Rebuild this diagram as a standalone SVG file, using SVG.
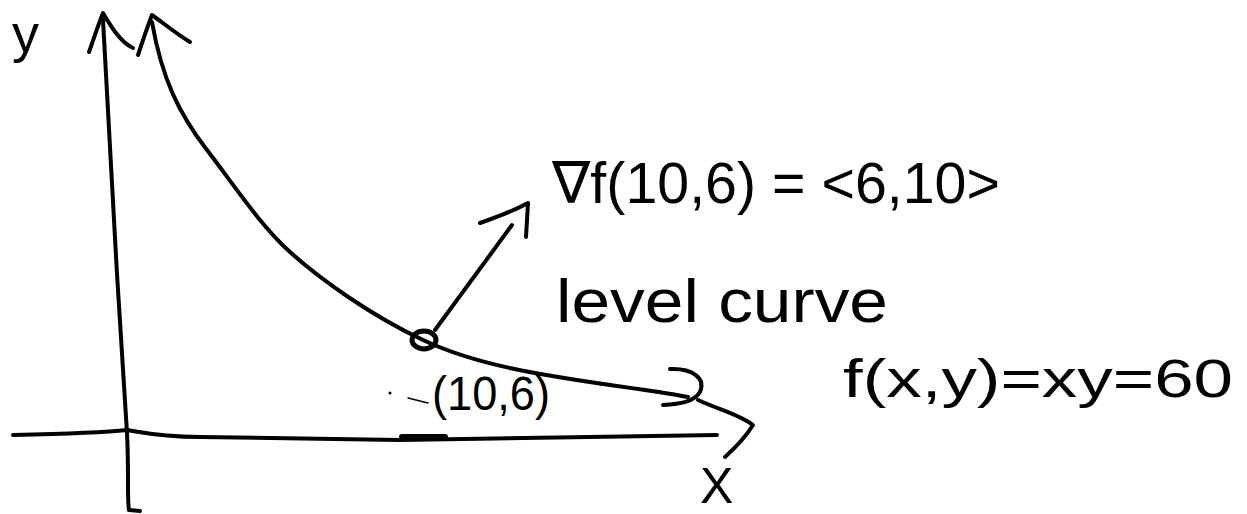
<svg xmlns="http://www.w3.org/2000/svg" width="1247" height="514" viewBox="0 0 1247 514">
<style>
.ln{fill:none;stroke:#000;stroke-width:4;stroke-linecap:round;stroke-linejoin:round}
.tx{font-family:"Liberation Sans","DejaVu Sans",sans-serif;fill:#000}
</style>
<rect width="1247" height="514" fill="#fff"/>
<g id="axes">
<path class="ln" d="M103,20 C108,120 118,300 127,433 C129,470 127,500 129,510 L140,511"/>
<path class="ln" d="M89,52 C95,35 100,20 103,13 C110,25 120,42 133,48"/>
<path class="ln" d="M13,435 C60,434 100,433 127,430 C140,432 160,437 200,437 L400,440 C450,439 500,438 717,435"/>
<path class="ln" d="M402,437 L445,437" style="stroke-width:6"/>
<path class="ln" d="M698,400 C720,410 740,415 753,425 C745,438 735,448 725,457"/>
</g>
<g id="level-curve">
<path class="ln" d="M152,22 C162,80 180,115 207,150 S260,225 290,252 S370,315 423,340 S540,375 617,386 S670,394 688,397"/>
<path class="ln" d="M138,55 C143,40 148,25 152,15 C162,22 175,33 190,42"/>
<path class="ln" d="M670,369 C692,368 706,378 700,392 C694,402 680,404 663,405"/>
</g>
<g id="point">
<ellipse cx="424" cy="340" rx="12" ry="9" fill="none" stroke="#000" stroke-width="5"/>
</g>
<g id="connectors">
<path class="ln" d="M435,330 L512,225"/>
<path class="ln" d="M480,223 C500,216 515,210 528,203 L526,237"/>
<path class="ln" d="M408,398 L428,403" style="stroke-width:1.5"/>
<circle cx="390" cy="393" r="1.5" fill="#000"/>
</g>
<g id="labels">
<text class="tx" x="12" y="52" font-size="54">y</text>
<text class="tx" x="552" y="203" font-size="58" textLength="448" lengthAdjust="spacingAndGlyphs">∇f(10,6) = &lt;6,10&gt;</text>
<text class="tx" x="556" y="322" font-size="62" textLength="332" lengthAdjust="spacingAndGlyphs">level curve</text>
<text class="tx" x="843" y="397" font-size="54" textLength="390" lengthAdjust="spacingAndGlyphs">f(x,y)=xy=60</text>
<text class="tx" x="432" y="410" font-size="48" textLength="118" lengthAdjust="spacingAndGlyphs">(10,6)</text>
<text class="tx" x="700" y="503" font-size="50">X</text>
</g>
</svg>
